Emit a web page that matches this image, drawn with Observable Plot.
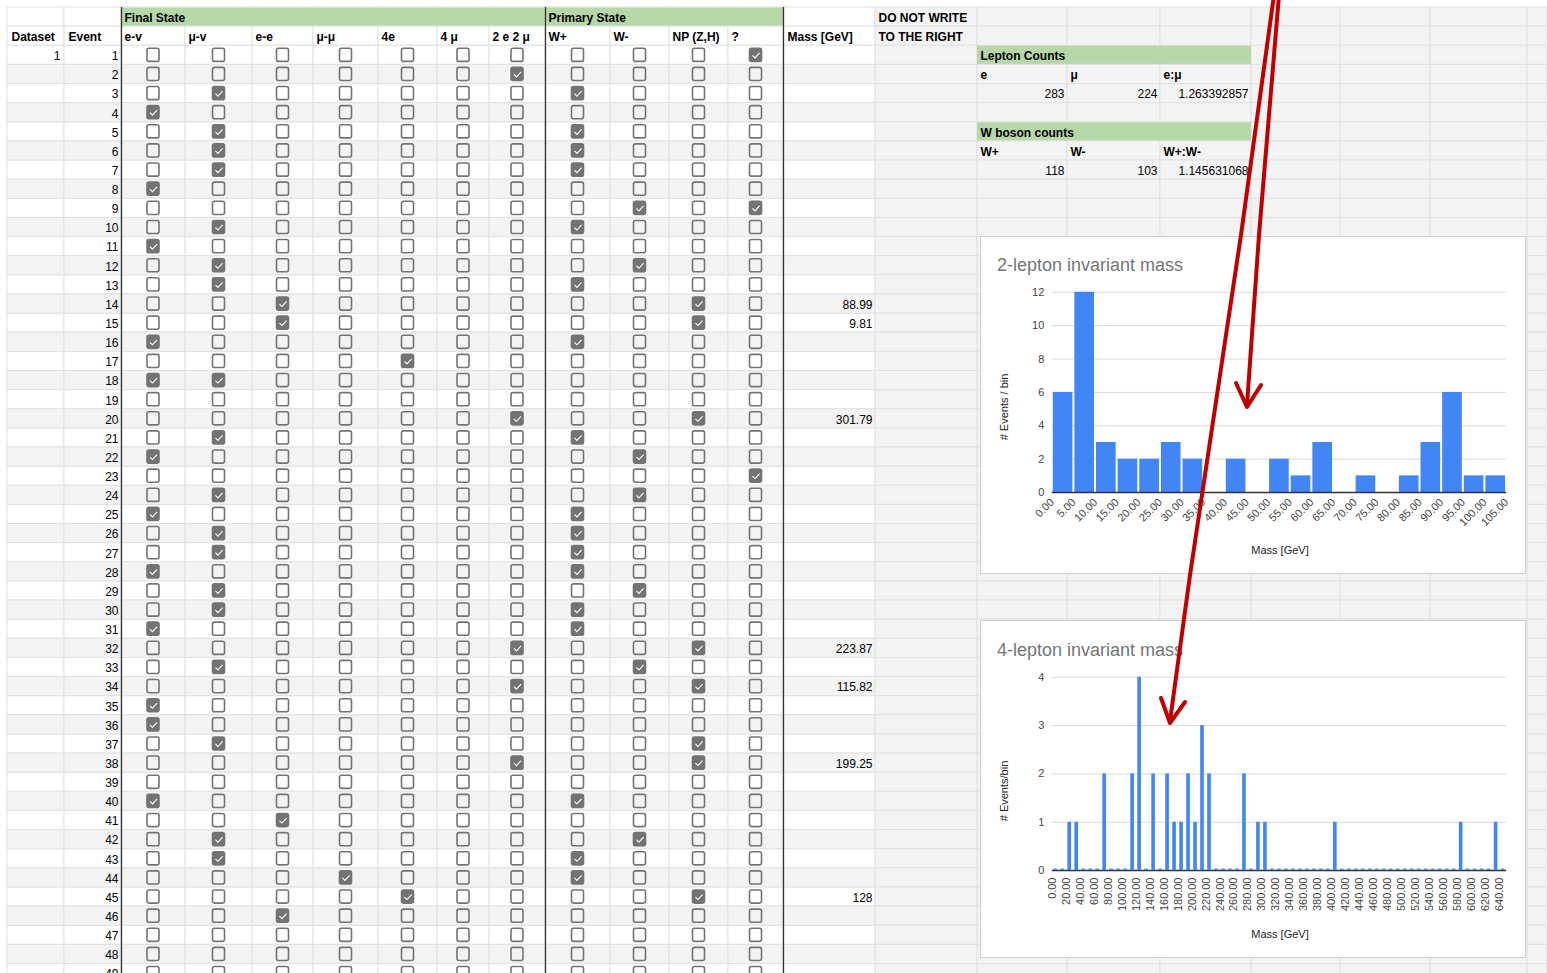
<!DOCTYPE html>
<html>
<head>
<meta charset="utf-8">
<script src="https://cdn.jsdelivr.net/npm/d3@7"></script>
<script src="https://cdn.jsdelivr.net/npm/@observablehq/plot@0.6"></script>
<style>
html, body { margin: 0; padding: 0; background: #fff; }
#page { position: relative; width: 1547px; height: 973px; overflow: hidden; font-family: "Liberation Sans", Arial, sans-serif; background: #fff; }
.chart { position: absolute; left: 980px; width: 546px; height: 338px; background: #fff; border: 1px solid #cfcfcf; box-sizing: border-box; }
.chart svg { position: absolute; left: -1px; top: -1px; }
.ctitle { position: absolute; left: 16px; font-size: 18px; line-height: 18px; color: #757575; white-space: nowrap; }
.xtitle { position: absolute; font-size: 11px; color: #222; transform: translate(-50%, -50%); white-space: nowrap; }
.ytitle { position: absolute; font-size: 11px; color: #222; transform: translate(-50%, -50%) rotate(-90deg); white-space: nowrap; }
#arrows { position: absolute; left: 0; top: 0; pointer-events: none; }
</style>
</head>
<body>
<div id="page"></div>
<script>
// ================= DATA =================
const finalStateCols = ["e-v", "μ-v", "e-e", "μ-μ", "4e", "4 μ", "2 e 2 μ"];
const primaryStateCols = ["W+", "W-", "NP (Z,H)", "?"];
const events = [1,2,3,4,5,6,7,8,9,10,11,12,13,14,15,16,17,18,19,20,21,22,23,24,25,26,27,28,29,30,31,32,33,34,35,36,37,38,39,40,41,42,43,44,45,46,47,48,49];
const checkedBoxes = [
  ["?"],                       // 1
  ["2 e 2 μ"],                 // 2
  ["μ-v", "W+"],               // 3
  ["e-v"],                     // 4
  ["μ-v", "W+"],               // 5
  ["μ-v", "W+"],               // 6
  ["μ-v", "W+"],               // 7
  ["e-v"],                     // 8
  ["W-", "?"],                 // 9
  ["μ-v", "W+"],               // 10
  ["e-v"],                     // 11
  ["μ-v", "W-"],               // 12
  ["μ-v", "W+"],               // 13
  ["e-e", "NP (Z,H)"],         // 14
  ["e-e", "NP (Z,H)"],         // 15
  ["e-v", "W+"],               // 16
  ["4e"],                      // 17
  ["e-v", "μ-v"],              // 18
  [],                          // 19
  ["2 e 2 μ", "NP (Z,H)"],     // 20
  ["μ-v", "W+"],               // 21
  ["e-v", "W-"],               // 22
  ["?"],                       // 23
  ["μ-v", "W-"],               // 24
  ["e-v", "W+"],               // 25
  ["μ-v", "W+"],               // 26
  ["μ-v", "W+"],               // 27
  ["e-v", "W+"],               // 28
  ["μ-v", "W-"],               // 29
  ["μ-v", "W+"],               // 30
  ["e-v", "W+"],               // 31
  ["2 e 2 μ", "NP (Z,H)"],     // 32
  ["μ-v", "W-"],               // 33
  ["2 e 2 μ", "NP (Z,H)"],     // 34
  ["e-v"],                     // 35
  ["e-v"],                     // 36
  ["μ-v", "NP (Z,H)"],         // 37
  ["2 e 2 μ", "NP (Z,H)"],     // 38
  [],                          // 39
  ["e-v", "W+"],               // 40
  ["e-e"],                     // 41
  ["μ-v", "W-"],               // 42
  ["μ-v", "W+"],               // 43
  ["μ-μ", "W+"],               // 44
  ["4e", "NP (Z,H)"],          // 45
  ["e-e"],                     // 46
  [],                          // 47
  [],                          // 48
  []                           // 49
];
const massEvents = [14, 15, 20, 32, 34, 38, 45];
const massValues = ["88.99", "9.81", "301.79", "223.87", "115.82", "199.25", "128"];
const datasetLabels = ["1"];

const leptonLabels = ["e", "μ", "e:μ"];
const leptonValues = ["283", "224", "1.263392857"];
const wLabels = ["W+", "W-", "W+:W-"];
const wValues = ["118", "103", "1.145631068"];

// 2-lepton histogram (bin edges, counts per bin)
const mass2Edges = [0,5,10,15,20,25,30,35,40,45,50,55,60,65,70,75,80,85,90,95,100,105];
const mass2Counts = [6,12,3,2,2,3,2,0,2,0,2,1,3,0,1,0,1,3,6,1,1];
const mass2YTicks = [0,2,4,6,8,10,12];

// 4-lepton histogram
const mass4Edges = [0,10,20,30,40,50,60,70,80,90,100,110,120,130,140,150,160,170,180,190,200,210,220,230,240,250,260,270,280,290,300,310,320,330,340,350,360,370,380,390,400,410,420,430,440,450,460,470,480,490,500,510,520,530,540,550,560,570,580,590,600,610,620,630,640,650];
const mass4Counts = [0,0,1,1,0,0,0,2,0,0,0,2,4,0,2,0,2,1,1,2,1,3,2,0,0,0,0,2,0,1,1,0,0,0,0,0,0,0,0,0,1,0,0,0,0,0,0,0,0,0,0,0,0,0,0,0,0,0,1,0,0,0,0,1,0];
const mass4XTicks = [0,20,40,60,80,100,120,140,160,180,200,220,240,260,280,300,320,340,360,380,400,420,440,460,480,500,520,540,560,580,600,620,640];
const mass4YTicks = [0,1,2,3,4];

// ================= LAYOUT (styling only) =================
const W = 1547, H = 973;
const colEdges = [7,64,121,185,252,313,378,437,489,545,610,669,728,783,875,977,1067,1160,1251,1340,1430,1527,1547];
const ROW_H = 19.13, TOP = 7;
const FONT = "Liberation Sans, Arial, sans-serif";
const GREEN = "#b6d7a8", STRIPE = "#f3f3f3", GRID = "#e1e1e1", BOX = "#737373";
const BLUE = "#4285f4";

const rowKeys = ["h1", "h2", ...events.map(String)];
const stateCols = [...finalStateCols, ...primaryStateCols];
const stateColIndex = c => 2 + stateCols.indexOf(c);
const colCenter = i => (colEdges[i] + colEdges[i + 1]) / 2;
const colLeft = i => colEdges[i];
const colRight = i => colEdges[i + 1];

// sheet cells
const cells = [];
rowKeys.forEach((r, ri) => {
  for (let c = 0; c < colEdges.length - 1; c++) {
    const isEvent = ri >= 2;
    const evenRow = isEvent && (events[ri - 2] % 2 === 0);
    const gray = c >= 14 || evenRow;
    cells.push({row: r, x1: colEdges[c], x2: colEdges[c + 1], gray});
  }
});

const boxes = [];
events.forEach((e, i) => {
  stateCols.forEach(c => {
    boxes.push({row: String(e), cx: colCenter(stateColIndex(c)), checked: checkedBoxes[i].includes(c)});
  });
});

const greenBlocks = [
  {row: "h1", x1: colLeft(2), x2: colRight(8)},
  {row: "h1", x1: colLeft(9), x2: colRight(12)},
  {row: "1", x1: colLeft(15), x2: colRight(17)},
  {row: "5", x1: colLeft(15), x2: colRight(17)}
];

const headerTexts = [
  {row: "h1", x: colLeft(2) + 3, text: "Final State"},
  {row: "h1", x: colLeft(9) + 3, text: "Primary State"},
  {row: "h1", x: colLeft(14) + 3, text: "DO NOT WRITE"},
  {row: "h2", x: colLeft(0) + 4, text: "Dataset"},
  {row: "h2", x: colLeft(1) + 4, text: "Event"},
  ...stateCols.map(c => ({row: "h2", x: colLeft(stateColIndex(c)) + 3, text: c})),
  {row: "h2", x: colLeft(13) + 4, text: "Mass [GeV]"},
  {row: "h2", x: colLeft(14) + 3, text: "TO THE RIGHT"},
  {row: "1", x: colLeft(15) + 3, text: "Lepton Counts"},
  ...leptonLabels.map((t, i) => ({row: "2", x: colLeft(15 + i) + 3, text: t})),
  {row: "5", x: colLeft(15) + 3, text: "W boson counts"},
  ...wLabels.map((t, i) => ({row: "6", x: colLeft(15 + i) + 3, text: t}))
];
const valueTexts = [
  ...leptonValues.map((t, i) => ({row: "3", x: colRight(15 + i) - 3, text: t})),
  ...wValues.map((t, i) => ({row: "7", x: colRight(15 + i) - 3, text: t})),
  ...massEvents.map((e, i) => ({row: String(e), x: colRight(13) - 3, text: massValues[i]})),
  ...datasetLabels.map((d, i) => ({row: String(i + 1), x: colRight(0) - 4, text: d})),
  ...events.map(e => ({row: String(e), x: colRight(1) - 3, text: String(e)}))
];

const checkSymbol = {
  draw(ctx, size) {
    const r = Math.sqrt(size / Math.PI);
    ctx.moveTo(-0.85 * r, 0.0);
    ctx.lineTo(-0.25 * r, 0.6 * r);
    ctx.lineTo(0.85 * r, -0.6 * r);
  }
};

const sheet = Plot.plot({
  width: W, height: H,
  marginTop: 0, marginRight: 0, marginBottom: 0, marginLeft: 0,
  style: {fontFamily: FONT, background: "#fff", overflow: "hidden"},
  x: {type: "linear", domain: [0, W], range: [0, W], axis: null},
  y: {type: "band", domain: rowKeys, range: [TOP, TOP + rowKeys.length * ROW_H], padding: 0, round: false, axis: null},
  marks: [
    Plot.barX(cells.filter(d => !d.gray), {x1: "x1", x2: "x2", y: "row", fill: "#ffffff", stroke: GRID, strokeWidth: 1}),
    Plot.barX(cells.filter(d => d.gray), {x1: "x1", x2: "x2", y: "row", fill: STRIPE, stroke: GRID, strokeWidth: 1}),
    Plot.barX(greenBlocks, {x1: "x1", x2: "x2", y: "row", fill: GREEN, insetTop: 0.5, insetBottom: 0.5}),
    Plot.barX(boxes.filter(d => !d.checked), {x1: d => d.cx - 6, x2: d => d.cx + 6, y: "row", insetTop: 3, insetBottom: 3, rx: 2, fill: "none", stroke: BOX, strokeWidth: 1.6}),
    Plot.barX(boxes.filter(d => d.checked), {x1: d => d.cx - 6, x2: d => d.cx + 6, y: "row", insetTop: 3, insetBottom: 3, rx: 2, fill: BOX, stroke: BOX, strokeWidth: 1.6}),
    Plot.dot(boxes.filter(d => d.checked), {x: "cx", y: "row", symbol: checkSymbol, r: 4.2, fill: "none", stroke: "#ffffff", strokeWidth: 1.1}),
    Plot.ruleX([colLeft(2), colLeft(9), colLeft(13)], {stroke: "#333", strokeWidth: 1.3, insetTop: TOP}),
    Plot.text(headerTexts, {x: "x", y: "row", text: "text", textAnchor: "start", fontSize: 12, fontWeight: "bold", fontFamily: FONT, fill: "#000", dy: 1}),
    Plot.text(valueTexts, {x: "x", y: "row", text: "text", textAnchor: "end", fontSize: 12, fontFamily: FONT, fill: "#000", dy: 1})
  ]
});
sheet.style.position = "absolute";
sheet.style.left = "0px";
sheet.style.top = "0px";

const page = document.getElementById("page");
page.appendChild(sheet);

// ================= CHARTS =================
function makeChart(top, title, titleTop, ytitle, plot) {
  const div = document.createElement("div");
  div.className = "chart";
  div.style.top = top + "px";
  div.appendChild(plot);
  const t = document.createElement("div");
  t.className = "ctitle"; t.style.top = titleTop + "px"; t.textContent = title;
  div.appendChild(t);
  const yt = document.createElement("div");
  yt.className = "ytitle"; yt.style.left = "23px"; yt.style.top = "170px"; yt.textContent = ytitle;
  div.appendChild(yt);
  const xt = document.createElement("div");
  xt.className = "xtitle"; xt.style.left = "299px"; xt.style.top = "313px"; xt.textContent = "Mass [GeV]";
  div.appendChild(xt);
  page.appendChild(div);
}

const hist2 = mass2Counts.map((c, i) => ({x1: mass2Edges[i], x2: mass2Edges[i + 1], count: c}));
const chart1 = Plot.plot({
  width: 546, height: 338,
  marginLeft: 72, marginRight: 18, marginTop: 56, marginBottom: 81,
  style: {fontFamily: FONT, fontSize: "11px", color: "#444", background: "transparent", overflow: "visible"},
  x: {domain: [0, 105], ticks: mass2Edges, tickFormat: d3.format(".2f"), tickRotate: -45, tickSize: 0, tickPadding: 8, label: null},
  y: {domain: [0, 12], ticks: mass2YTicks, tickFormat: d3.format("d"), tickSize: 0, tickPadding: 8, label: null},
  marks: [
    Plot.ruleY(mass2YTicks, {stroke: "#d9d9d9", strokeWidth: 1}),
    Plot.rectY(hist2, {x1: "x1", x2: "x2", y: "count", fill: BLUE, insetLeft: 1, insetRight: 1}),
    Plot.ruleY([0], {stroke: "#333", strokeWidth: 1.5})
  ]
});
makeChart(236, "2-lepton invariant mass", 19, "# Events / bin", chart1);

const hist4 = mass4Counts.map((c, i) => ({x1: mass4Edges[i], x2: mass4Edges[i + 1], count: c}));
const chart2 = Plot.plot({
  width: 546, height: 338,
  marginLeft: 72, marginRight: 18, marginTop: 57, marginBottom: 87,
  style: {fontFamily: FONT, fontSize: "11px", color: "#444", background: "transparent", overflow: "visible"},
  x: {domain: [0, 650], ticks: mass4XTicks, tickFormat: d3.format(".2f"), tickRotate: -90, tickSize: 0, tickPadding: 7, label: null},
  y: {domain: [0, 4], ticks: mass4YTicks, tickFormat: d3.format("d"), tickSize: 0, tickPadding: 8, label: null},
  marks: [
    Plot.ruleY(mass4YTicks, {stroke: "#d9d9d9", strokeWidth: 1}),
    Plot.ruleY([0], {stroke: "#333", strokeWidth: 1.5}),
    Plot.rectY(hist4.filter(d => d.count > 0), {x1: "x1", x2: "x2", y: "count", fill: BLUE, insetLeft: 1.7, insetRight: 1.7}),
    Plot.rect(hist4.filter(d => d.count === 0), {x1: "x1", x2: "x2", y1: d => 0, y2: d => 0, insetTop: -1.5, insetLeft: 1.7, insetRight: 1.7, fill: BLUE})
  ]
});
makeChart(620, "4-lepton invariant mass", 20, "# Events/bin", chart2);

// ================= ANNOTATION (hand-drawn red arrows) =================
const ns = "http://www.w3.org/2000/svg";
const arrowSvg = document.createElementNS(ns, "svg");
arrowSvg.setAttribute("id", "arrows");
arrowSvg.setAttribute("width", W);
arrowSvg.setAttribute("height", H);
const arrowPaths = [
  "1279,-5 1259,235 1247,405",
  "1236,383 1247,407 1261,385",
  "1274,-5 1241,235 1190,575 1170,721",
  "1161,698 1170,723 1185,702"
];
arrowPaths.forEach(p => {
  const pl = document.createElementNS(ns, "polyline");
  pl.setAttribute("points", p);
  pl.setAttribute("fill", "none");
  pl.setAttribute("stroke", "#c00000");
  pl.setAttribute("stroke-width", "4");
  pl.setAttribute("stroke-linecap", "round");
  pl.setAttribute("stroke-linejoin", "round");
  arrowSvg.appendChild(pl);
});
page.appendChild(arrowSvg);
</script>
</body>
</html>
